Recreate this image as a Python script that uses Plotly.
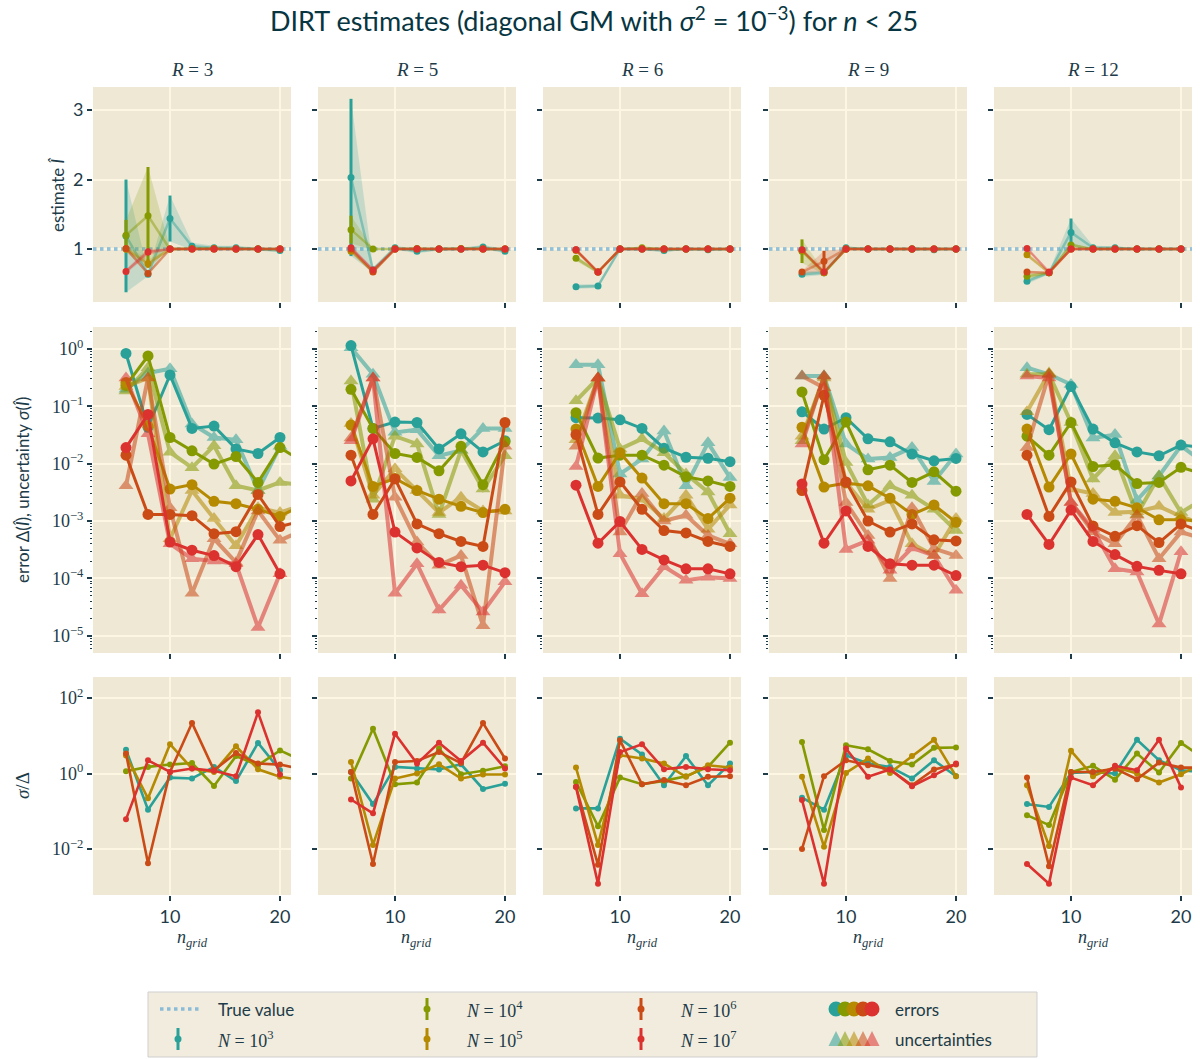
import plotly.graph_objects as go

W, H = 1200, 1059

# ---------------------------------------------------------------- data
N_GRID = [6, 8, 10, 12, 14, 16, 18, 20, 22]
X_RANGE = [3, 21]
R_VALUES = [3, 5, 6, 9, 12]
N_EXPONENTS = [3, 4, 5, 6, 7]
COLORS = ["#2aa198", "#859900", "#b58900", "#cb4b16", "#dc322f"]
TRUE_VALUE = 1.0

# estimates (one row per N = 10^3 .. 10^7)
est_r3 = [
    [1.19, 0.64, 1.44, 1.04, 1.02, 1.02, 1.00, 0.98, None],
    [1.20, 1.48, 1.00, 1.01, 1.01, 1.00, 1.00, 1.00, None],
    [1.00, 0.79, 1.00, 1.00, 1.00, 1.00, 1.00, 1.00, None],
    [1.01, 0.65, 1.00, 1.00, 1.00, 1.00, 1.00, 1.00, None],
    [0.68, 0.96, 1.00, 1.00, 1.00, 1.00, 1.00, 1.00, None],
]
sig_r3 = [
    [0.81, 0.03, 0.33, 0.05, 0.03, 0.03, 0.02, 0.03, None],
    [0.22, 0.70, 0.02, 0.02, 0.01, 0.01, 0.01, 0.01, None],
    [0.05, 0.06, 0.01, 0.01, 0.01, 0.005, 0.005, 0.005, None],
    [0.03, 0.03, 0.01, 0.005, 0.005, 0.005, 0.005, 0.005, None],
    [0.03, 0.05, 0.005, 0.005, 0.005, 0.005, 0.005, 0.005, None],
]
est_r5 = [
    [2.03, 0.70, 1.02, 0.97, 1.00, 1.00, 1.03, 0.97, None],
    [1.28, 1.00, 1.00, 1.01, 1.00, 1.01, 1.00, 1.00, None],
    [0.97, 0.68, 1.00, 1.00, 1.00, 1.00, 1.00, 1.00, None],
    [1.00, 0.67, 1.00, 1.00, 1.00, 1.00, 1.00, 1.00, None],
    [1.02, 0.70, 1.00, 1.00, 1.00, 1.00, 1.00, 1.00, None],
]
sig_r5 = [
    [1.13, 0.04, 0.03, 0.03, 0.02, 0.02, 0.03, 0.03, None],
    [0.20, 0.01, 0.01, 0.01, 0.01, 0.01, 0.01, 0.01, None],
    [0.03, 0.02, 0.005, 0.005, 0.005, 0.005, 0.005, 0.005, None],
    [0.02, 0.02, 0.005, 0.005, 0.005, 0.005, 0.005, 0.005, None],
    [0.02, 0.02, 0.005, 0.005, 0.005, 0.005, 0.005, 0.005, None],
]
est_r6 = [
    [0.46, 0.47, 1.00, 1.00, 0.98, 1.00, 0.99, 1.00, None],
    [0.87, 0.67, 1.00, 1.02, 1.00, 1.00, 1.00, 1.00, None],
    [0.98, 0.67, 1.00, 1.00, 1.00, 1.00, 1.00, 1.00, None],
    [0.99, 0.67, 1.00, 1.00, 1.00, 1.00, 1.00, 1.00, None],
    [0.99, 0.67, 1.00, 1.00, 1.00, 1.00, 1.00, 1.00, None],
]
sig_r6 = [
    [0.03, 0.03, 0.02, 0.02, 0.02, 0.01, 0.01, 0.01, None],
    [0.04, 0.02, 0.01, 0.01, 0.01, 0.01, 0.01, 0.01, None],
    [0.02, 0.01, 0.005, 0.005, 0.005, 0.005, 0.005, 0.005, None],
    [0.01, 0.01, 0.005, 0.005, 0.005, 0.005, 0.005, 0.005, None],
    [0.01, 0.01, 0.005, 0.005, 0.005, 0.005, 0.005, 0.005, None],
]
est_r9 = [
    [0.64, 0.66, 1.02, 1.00, 1.00, 1.00, 0.99, 1.00, None],
    [0.97, 0.66, 1.00, 1.00, 1.00, 1.00, 1.00, 1.00, None],
    [0.98, 0.66, 1.00, 1.00, 1.00, 1.00, 1.00, 1.00, None],
    [0.67, 0.825, 1.00, 1.00, 1.00, 1.00, 1.00, 1.00, None],
    [0.99, 0.67, 1.00, 1.00, 1.00, 1.00, 1.00, 1.00, None],
]
sig_r9 = [
    [0.04, 0.03, 0.02, 0.01, 0.01, 0.01, 0.01, 0.01, None],
    [0.17, 0.02, 0.01, 0.005, 0.005, 0.005, 0.005, 0.005, None],
    [0.03, 0.02, 0.005, 0.005, 0.005, 0.005, 0.005, 0.005, None],
    [0.02, 0.15, 0.005, 0.005, 0.005, 0.005, 0.005, 0.005, None],
    [0.01, 0.01, 0.005, 0.005, 0.005, 0.005, 0.005, 0.005, None],
]
est_r12 = [
    [0.54, 0.66, 1.24, 1.02, 1.02, 1.00, 1.00, 1.00, None],
    [0.61, 0.66, 1.06, 1.00, 1.00, 1.00, 1.00, 1.00, None],
    [0.92, 0.66, 1.00, 1.00, 1.00, 1.00, 1.00, 1.00, None],
    [0.67, 0.66, 1.00, 1.00, 1.00, 1.00, 1.00, 1.00, None],
    [1.01, 0.67, 1.00, 1.00, 1.00, 1.00, 1.00, 1.00, None],
]
sig_r12 = [
    [0.04, 0.02, 0.20, 0.03, 0.02, 0.01, 0.01, 0.01, None],
    [0.04, 0.02, 0.03, 0.01, 0.01, 0.005, 0.005, 0.005, None],
    [0.03, 0.01, 0.005, 0.005, 0.005, 0.005, 0.005, 0.005, None],
    [0.02, 0.01, 0.005, 0.005, 0.005, 0.005, 0.005, 0.005, None],
    [0.01, 0.01, 0.005, 0.005, 0.005, 0.005, 0.005, 0.005, None],
]

# errors Δ(Î)
err_r3 = [
    [0.83, 0.043, 0.35, 0.041, 0.045, 0.018, 0.015, 0.0285, None],
    [0.23, 0.75, 0.0285, 0.0167, 0.0098, 0.0133, 0.0047, 0.019, 0.011],
    [0.26, 0.045, 0.0036, 0.0043, 0.0022, 0.0020, 0.0016, 0.0012, 0.0019],
    [0.014, 0.0013, 0.0013, 0.00124, 0.0006, 0.00065, 0.0029, 0.0008, 0.001],
    [0.019, 0.072, 0.00043, 0.00031, 0.00025, 0.00016, 0.00058, 0.00012, None],
]
err_r5 = [
    [1.14, 0.041, 0.053, 0.052, 0.018, 0.033, 0.016, 0.025, None],
    [0.197, 0.041, 0.015, 0.0128, 0.0075, 0.020, 0.0043, 0.024, None],
    [0.047, 0.004, 0.0055, 0.0034, 0.0024, 0.0018, 0.0014, 0.0016, None],
    [0.014, 0.0013, 0.0054, 0.00089, 0.0006, 0.00044, 0.00036, 0.052, None],
    [0.005, 0.027, 0.00064, 0.00034, 0.00019, 0.00016, 0.00017, 0.000126, None],
]
err_r6 = [
    [0.063, 0.062, 0.058, 0.041, 0.0186, 0.0129, 0.0124, 0.0108, None],
    [0.077, 0.0125, 0.014, 0.014, 0.0094, 0.0059, 0.005, 0.004, None],
    [0.040, 0.004, 0.0155, 0.0056, 0.002, 0.002, 0.0011, 0.0025, None],
    [0.032, 0.0013, 0.0048, 0.0016, 0.00068, 0.00062, 0.00044, 0.00036, None],
    [0.0042, 0.00041, 0.00098, 0.00032, 0.00021, 0.000147, 0.000147, 0.00012, None],
]
err_r9 = [
    [0.08, 0.04, 0.063, 0.027, 0.024, 0.0147, 0.0112, 0.0123, None],
    [0.177, 0.0117, 0.053, 0.0078, 0.0094, 0.0047, 0.0072, 0.0033, None],
    [0.043, 0.0039, 0.0046, 0.0041, 0.0025, 0.0013, 0.0019, 0.00095, None],
    [0.0034, 0.155, 0.0048, 0.001, 0.00064, 0.00089, 0.00047, 0.00045, None],
    [0.0044, 0.00041, 0.0015, 0.00036, 0.00018, 0.00017, 0.00017, 0.000112, None],
]
err_r12 = [
    [0.072, 0.039, 0.22, 0.04, 0.023, 0.016, 0.0137, 0.021, 0.019],
    [0.03, 0.014, 0.052, 0.0089, 0.0095, 0.0045, 0.0047, 0.0086, 0.0066],
    [0.04, 0.0039, 0.0147, 0.0024, 0.0022, 0.0017, 0.00105, 0.00105, 0.001],
    [0.014, 0.0012, 0.0048, 0.00082, 0.00054, 0.00083, 0.00042, 0.00089, 0.00063],
    [0.0013, 0.00039, 0.00155, 0.00044, 0.00026, 0.000162, 0.000138, 0.00012, None],
]

# uncertainties σ(Î)
unc_r3 = [
    [0.197, 0.38, 0.45, 0.049, 0.0285, 0.026, 0.0034, 0.02, None],
    [0.184, 0.47, 0.0158, 0.0085, 0.0204, 0.0041, 0.0034, 0.0047, 0.0042],
    [0.22, 0.31, 0.00049, 0.0034, 0.0011, 0.00037, 0.0017, 0.0014, 0.0019],
    [0.0041, 0.31, 0.0017, 5.5e-5, 0.00049, 0.00019, 0.0015, 0.00046, 0.00068],
    [0.31, 0.033, 0.0004, 0.00022, 0.0002, 0.00018, 1.4e-5, 0.00012, None],
]
unc_r5 = [
    [1.04, 0.36, 0.035, 0.039, 0.0137, 0.017, 0.041, 0.041, None],
    [0.275, 0.0024, 0.030, 0.022, 0.0013, 0.017, 0.0036, 0.0137, None],
    [0.05, 0.0028, 0.0081, 0.0034, 0.0014, 0.0026, 0.0015, 0.0015, None],
    [0.028, 0.31, 0.0026, 0.00043, 0.00017, 0.00025, 1.5e-5, 0.02, None],
    [0.025, 0.31, 5.5e-5, 0.00018, 2.8e-5, 7.6e-5, 2.6e-5, 8.7e-5, None],
]
unc_r6 = [
    [0.53, 0.53, 0.0066, 0.012, 0.037, 0.0041, 0.023, 0.0057, None],
    [0.124, 0.31, 0.018, 0.027, 0.0155, 0.0066, 0.0032, 0.0006, None],
    [0.026, 0.31, 0.0028, 0.0024, 0.0011, 0.0028, 0.00072, 0.0019, None],
    [0.02, 0.31, 0.00064, 0.003, 0.001, 0.00126, 0.00056, 0.0004, None],
    [0.0089, 0.31, 0.00027, 5.4e-5, 0.00016, 9.3e-5, 0.000105, 0.0001, None],
]
unc_r9 = [
    [0.335, 0.335, 0.022, 0.012, 0.0128, 0.019, 0.0049, 0.0147, None],
    [0.025, 0.335, 0.0105, 0.0019, 0.0041, 0.0028, 0.0016, 0.00068, None],
    [0.03, 0.31, 0.0047, 0.0016, 0.0023, 0.0004, 0.00025, 0.0011, None],
    [0.335, 0.21, 0.0021, 0.00056, 0.0001, 0.0017, 0.00033, 0.00025, None],
    [0.022, 0.335, 0.00032, 0.00046, 0.000138, 0.00034, 0.00025, 6.2e-5, None],
]
unc_r12 = [
    [0.47, 0.36, 0.24, 0.028, 0.032, 0.0023, 0.0061, 0.0204, 0.0105],
    [0.36, 0.36, 0.052, 0.0054, 0.0137, 0.0013, 0.0061, 0.0014, 0.0024],
    [0.08, 0.38, 0.0036, 0.003, 0.0014, 0.00145, 0.0018, 0.0012, 0.00088],
    [0.019, 0.36, 0.0021, 0.00064, 0.0004, 0.00126, 0.00022, 0.00064, 0.00049],
    [0.335, 0.31, 0.0021, 0.00072, 0.000147, 0.000129, 1.6e-5, 0.00029, None],
]

# ratio σ/Δ
ratio_r3 = [
    [4.3, 0.11, 0.78, 0.74, 1.5, 0.63, 6.5, 1.22, None],
    [1.15, 1.5, 1.73, 1.9, 0.47, 2.9, 1.66, 4.1, 2.2],
    [3.0, 0.22, 6.0, 1.36, 1.1, 5.3, 1.3, 0.82, 0.67],
    [3.4, 0.0042, 1.1, 22.0, 1.22, 3.5, 1.84, 1.73, 1.3],
    [0.061, 2.25, 1.1, 1.36, 1.18, 0.85, 42.0, 0.94, None],
]
ratio_r5 = [
    [1.1, 0.155, 1.5, 1.36, 1.28, 1.76, 0.39, 0.54, None],
    [0.74, 15.5, 0.52, 0.58, 4.6, 0.96, 1.18, 1.56, None],
    [2.03, 0.0128, 0.74, 1.0, 1.76, 0.74, 0.94, 0.94, None],
    [1.1, 0.004, 2.03, 2.16, 3.7, 1.9, 21.9, 2.5, None],
    [0.205, 0.088, 11.4, 1.84, 6.6, 2.16, 6.6, 1.36, None],
]
ratio_r6 = [
    [0.119, 0.119, 8.4, 3.2, 0.49, 2.9, 0.49, 1.84, None],
    [0.6, 0.04, 0.78, 0.52, 0.64, 0.85, 1.5, 6.6, None],
    [1.44, 0.0128, 3.05, 2.5, 1.84, 0.82, 1.66, 1.44, None],
    [0.45, 0.0038, 7.6, 0.52, 0.67, 0.49, 0.82, 0.85, None],
    [0.44, 0.0012, 3.7, 6.0, 1.3, 1.5, 1.3, 1.22, None],
]
ratio_r9 = [
    [0.23, 0.11, 3.05, 1.84, 1.5, 0.74, 2.25, 0.85, None],
    [6.9, 0.032, 5.6, 4.4, 2.16, 1.73, 4.8, 4.9, None],
    [0.82, 0.0115, 1.04, 2.5, 1.04, 2.9, 7.9, 0.85, None],
    [0.01, 0.85, 2.25, 1.66, 1.28, 0.49, 1.28, 1.73, None],
    [0.2, 0.0012, 4.6, 0.82, 1.28, 0.46, 0.9, 1.84, None],
]
ratio_r12 = [
    [0.155, 0.13, 1.04, 1.1, 1.0, 7.9, 2.25, 1.22, 1.1],
    [0.079, 0.043, 1.1, 1.6, 0.69, 3.4, 1.06, 6.5, 2.6],
    [0.49, 0.012, 4.0, 0.85, 1.5, 1.0, 0.58, 0.96, 1.9],
    [0.78, 0.0035, 1.1, 1.1, 1.35, 0.71, 1.95, 1.44, 1.44],
    [0.004, 0.0012, 0.78, 0.49, 1.6, 1.22, 7.9, 0.43, None],
]

EST = dict(zip(R_VALUES, [est_r3, est_r5, est_r6, est_r9, est_r12]))
SIG = dict(zip(R_VALUES, [sig_r3, sig_r5, sig_r6, sig_r9, sig_r12]))
ERR = dict(zip(R_VALUES, [err_r3, err_r5, err_r6, err_r9, err_r12]))
UNC = dict(zip(R_VALUES, [unc_r3, unc_r5, unc_r6, unc_r9, unc_r12]))
RATIO = dict(zip(R_VALUES, [ratio_r3, ratio_r5, ratio_r6, ratio_r9, ratio_r12]))

# ---------------------------------------------------------------- style
BG = "#eee8d5"
GRID = "#fdf6e3"
TEXT = "#1d3b48"
TRUE_COLOR = "rgba(38,139,210,0.5)"
SANS = "Lato, 'DejaVu Sans', sans-serif"
SERIF = "'Liberation Serif', 'DejaVu Serif', serif"

COL_PX = [(93, 291), (318, 516), (543, 741), (769, 967), (994, 1192)]
ROW_PX = [(87, 302), (327, 653), (677, 895)]


def fx(p):
    return p / W


def fy(p):
    return 1 - p / H


def rgba(hex_color, a):
    h = hex_color.lstrip("#")
    r, g, b = int(h[0:2], 16), int(h[2:4], 16), int(h[4:6], 16)
    return f"rgba({r},{g},{b},{a})"


def sup_minus(e):
    return f"10<sup>{'−' if e < 0 else ''}{abs(e)}</sup>"


def suffix(i):
    return "" if i == 1 else str(i)


fig = go.Figure()
layout = dict(
    width=W, height=H,
    margin=dict(l=0, r=0, t=0, b=0),
    paper_bgcolor="white",
    plot_bgcolor=BG,
    showlegend=False,
)

mid_ticks = [10.0 ** e for e in range(-5, 1)]
bot_ticks = [1e-2, 1.0, 1e2]
minor_ticks = [k * 10.0 ** e for e in range(-6, 1) for k in range(2, 10)]

shapes = []
annotations = []

for r in range(3):
    for c in range(5):
        i = r * 5 + c + 1
        s = suffix(i)
        xa = dict(
            domain=[fx(COL_PX[c][0]), fx(COL_PX[c][1])],
            anchor=f"y{s}", range=X_RANGE,
            tickmode="array", tickvals=[10, 20], ticktext=["10", "20"],
            showticklabels=(r == 2),
            ticks="outside", ticklen=5, tickwidth=1.5, tickcolor=TEXT,
            showgrid=True, gridcolor=GRID, gridwidth=1.5,
            zeroline=False, showline=False,
            tickfont=dict(family=SANS, size=18, color=TEXT),
        )
        ya = dict(
            domain=[fy(ROW_PX[r][1]), fy(ROW_PX[r][0])],
            anchor=f"x{s}",
            ticks="outside", ticklen=5, tickwidth=1.5, tickcolor=TEXT,
            showgrid=True, gridcolor=GRID, gridwidth=1.5,
            zeroline=False, showline=False,
            showticklabels=(c == 0),
        )
        if r == 0:
            ya.update(range=[0.24, 3.33], tickmode="array", tickvals=[1, 2, 3],
                      ticktext=["1", "2", "3"],
                      tickfont=dict(family=SANS, size=18, color=TEXT))
        elif r == 1:
            ya.update(type="log", range=[-5.3, 0.38], tickmode="array",
                      tickvals=mid_ticks,
                      ticktext=[sup_minus(e) for e in range(-5, 1)],
                      tickfont=dict(family=SERIF, size=18, color=TEXT),
                      minor=dict(ticks="outside", ticklen=2.5, tickwidth=1,
                                 tickcolor=TEXT, tickmode="array",
                                 tickvals=minor_ticks, showgrid=False))
        else:
            ya.update(type="log", range=[-3.22, 2.56], tickmode="array",
                      tickvals=bot_ticks,
                      ticktext=[sup_minus(-2), sup_minus(0), sup_minus(2)],
                      tickfont=dict(family=SERIF, size=18, color=TEXT))
        layout[f"xaxis{s}"] = xa
        layout[f"yaxis{s}"] = ya

# ---------------------------------------------------------------- traces
for c, R in enumerate(R_VALUES):
    st, sm, sb = suffix(c + 1), suffix(c + 6), suffix(c + 11)
    xa_top, ya_top = f"x{st}", f"y{st}"
    xa_mid, ya_mid = f"x{sm}", f"y{sm}"
    xa_bot, ya_bot = f"x{sb}", f"y{sb}"

    # true value reference line across the full x range
    fig.add_trace(go.Scatter(
        x=X_RANGE, y=[TRUE_VALUE] * len(X_RANGE), mode="lines",
        line=dict(color=TRUE_COLOR, width=3.5, dash="dot"),
        xaxis=xa_top, yaxis=ya_top, hoverinfo="skip"))

    for k, color in enumerate(COLORS):
        est = EST[R][k]
        sig = SIG[R][k]
        xs = [x for x, v in zip(N_GRID, est) if v is not None]
        es = [v for v in est if v is not None]
        ss = [q for q, v in zip(sig, est) if v is not None]
        upper = [e + q for e, q in zip(es, ss)]
        lower = [e - q for e, q in zip(es, ss)]
        # ±σ band
        fig.add_trace(go.Scatter(
            x=xs + xs[::-1], y=upper + lower[::-1], fill="toself",
            fillcolor=rgba(color, 0.2), line=dict(width=0), mode="lines",
            xaxis=xa_top, yaxis=ya_top, hoverinfo="skip"))
        fig.add_trace(go.Scatter(
            x=xs, y=es, mode="lines", line=dict(color=rgba(color, 0.45), width=2.5),
            xaxis=xa_top, yaxis=ya_top, hoverinfo="skip"))
        fig.add_trace(go.Scatter(
            x=xs, y=es, mode="markers",
            marker=dict(color=color, size=7),
            error_y=dict(type="data", array=ss, visible=True, thickness=3,
                         width=0, color=color),
            xaxis=xa_top, yaxis=ya_top))

        # uncertainties (translucent triangles) and errors (circles)
        fig.add_trace(go.Scatter(
            x=N_GRID, y=UNC[R][k], mode="lines+markers", opacity=0.55,
            line=dict(color=color, width=4),
            marker=dict(symbol="triangle-up", size=13, color=color),
            xaxis=xa_mid, yaxis=ya_mid))
        fig.add_trace(go.Scatter(
            x=N_GRID, y=ERR[R][k], mode="lines+markers",
            line=dict(color=color, width=3),
            marker=dict(symbol="circle", size=11, color=color),
            xaxis=xa_mid, yaxis=ya_mid))

        # ratio σ/Δ
        fig.add_trace(go.Scatter(
            x=N_GRID, y=RATIO[R][k], mode="lines+markers",
            line=dict(color=color, width=2.6),
            marker=dict(symbol="circle", size=6, color=color),
            xaxis=xa_bot, yaxis=ya_bot))

    cx = (COL_PX[c][0] + COL_PX[c][1]) / 2
    annotations.append(dict(
        text=f"<i>R</i> = {R}", x=fx(cx), y=fy(69), xref="paper", yref="paper",
        showarrow=False, xanchor="center", yanchor="middle",
        font=dict(family=SERIF, size=19, color=TEXT)))
    annotations.append(dict(
        text="<i>n</i><sub><i>grid</i></sub>", x=fx(cx), y=fy(938),
        xref="paper", yref="paper", showarrow=False, xanchor="center",
        yanchor="middle", font=dict(family=SERIF, size=18, color=TEXT)))

# ---------------------------------------------------------------- text
annotations.append(dict(
    text="DIRT estimates (diagonal GM with <i>σ</i><sup>2</sup> = 10<sup>−3</sup>) for <i>n</i> &lt; 25",
    x=fx(594), y=fy(19), xref="paper", yref="paper", showarrow=False,
    xanchor="center", yanchor="middle",
    font=dict(family=SANS, size=27, color="#073642")))
annotations.append(dict(
    text="estimate <i>Î</i>", x=fx(57), y=fy(195), xref="paper", yref="paper",
    showarrow=False, textangle=-90, xanchor="center", yanchor="middle",
    font=dict(family=SANS, size=17, color=TEXT)))
annotations.append(dict(
    text="error Δ(<i>Î</i>), uncertainty <i>σ</i>(<i>Î</i>)", x=fx(22), y=fy(490),
    xref="paper", yref="paper", showarrow=False, textangle=-90,
    xanchor="center", yanchor="middle",
    font=dict(family=SANS, size=17, color=TEXT)))
annotations.append(dict(
    text="<i>σ</i>/Δ", x=fx(22), y=fy(786), xref="paper", yref="paper",
    showarrow=False, textangle=-90, xanchor="center", yanchor="middle",
    font=dict(family=SERIF, size=19, color=TEXT)))

# ---------------------------------------------------------------- legend
shapes.append(dict(type="rect", xref="paper", yref="paper", layer="below",
                   x0=fx(148), x1=fx(1037), y0=fy(1057), y1=fy(992),
                   fillcolor="#f1ecdd", line=dict(color="#cfcfcf", width=1)))
ROW1, ROW2 = 1009, 1039


def leg_label(text, x, y, family, size=18):
    annotations.append(dict(text=text, x=fx(x), y=fy(y), xref="paper",
                            yref="paper", showarrow=False, xanchor="left",
                            yanchor="middle",
                            font=dict(family=family, size=size, color=TEXT)))


def errbar_icon(x, y, color):
    shapes.append(dict(type="line", xref="paper", yref="paper",
                       x0=fx(x), x1=fx(x), y0=fy(y - 11), y1=fy(y + 11),
                       line=dict(color=color, width=3)))
    shapes.append(dict(type="circle", xref="paper", yref="paper",
                       x0=fx(x - 3.5), x1=fx(x + 3.5), y0=fy(y + 3.5),
                       y1=fy(y - 3.5), fillcolor=color, line=dict(width=0)))


shapes.append(dict(type="line", xref="paper", yref="paper",
                   x0=fx(160), x1=fx(200), y0=fy(ROW1), y1=fy(ROW1),
                   line=dict(color=TRUE_COLOR, width=3.5, dash="dot")))
leg_label("True value", 216, ROW1, SANS, 17)

legend_slots = [(178, ROW2), (427, ROW1), (427, ROW2), (641, ROW1), (641, ROW2)]
for (lx, ly), color, e in zip(legend_slots, COLORS, N_EXPONENTS):
    errbar_icon(lx, ly, color)
    leg_label(f"<i>N</i> = 10<sup>{e}</sup>", lx + 37, ly, SERIF, 18)

for j, color in enumerate(COLORS):
    cx = 836 + 9 * j
    shapes.append(dict(type="circle", xref="paper", yref="paper",
                       x0=fx(cx - 7.5), x1=fx(cx + 7.5), y0=fy(ROW1 + 7.5),
                       y1=fy(ROW1 - 7.5), fillcolor=color, line=dict(width=0)))
    path = (f"M {fx(cx - 7.5)},{fy(ROW2 + 7)} L {fx(cx + 7.5)},{fy(ROW2 + 7)} "
            f"L {fx(cx)},{fy(ROW2 - 8)} Z")
    shapes.append(dict(type="path", xref="paper", yref="paper", path=path,
                       fillcolor=color, opacity=0.55, line=dict(width=0)))
leg_label("errors", 893, ROW1, SANS, 17)
leg_label("uncertainties", 893, ROW2, SANS, 17)

layout["shapes"] = shapes
layout["annotations"] = annotations
fig.update_layout(**layout)

fig.write_html("out.html")
